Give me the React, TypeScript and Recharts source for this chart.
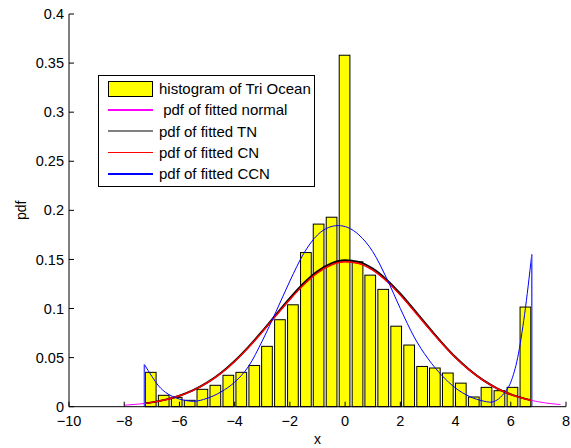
import React from "react";
import { ComposedChart, Bar, Line, XAxis, YAxis } from "recharts";

// histogram bins (centres and heights)
const binCenters = [
  -7.04, -6.57, -6.1, -5.63, -5.17, -4.7, -4.23, -3.76, -3.29, -2.83, -2.36, -1.89, -1.42, -0.96, -0.49,
  -0.02, 0.45, 0.91, 1.38, 1.85, 2.32, 2.79, 3.25, 3.72, 4.19, 4.66, 5.12, 5.59, 6.06, 6.53,
];
const binHeights = [
  0.035, 0.0116, 0.0095, 0.0065, 0.0177, 0.0218, 0.032, 0.035, 0.042, 0.0615, 0.0886, 0.1038, 0.157, 0.186,
  0.193, 0.358, 0.1476, 0.134, 0.1195, 0.082, 0.0628, 0.041, 0.0394, 0.0343, 0.024, 0.0099, 0.0197, 0.0163,
  0.0197, 0.1015,
];

const xTicks = [-10, -8, -6, -4, -2, 0, 2, 4, 6, 8];
const yTicks = [0, 0.05, 0.1, 0.15, 0.2, 0.25, 0.3, 0.35, 0.4];

// fitted normal, drawn over the wider range
const normalX = [
  -8, -7.5, -7, -6.5, -6, -5.5, -5, -4.5, -4, -3.5, -3, -2.5, -2, -1.5, -1, -0.5, 0, 0.5, 1, 1.5, 2, 2.5, 3,
  3.5, 4, 4.5, 5, 5.5, 6, 6.5, 7, 7.5, 7.8,
];
const normalPdf = [
  0.0015, 0.0026, 0.0044, 0.0071, 0.0111, 0.0167, 0.0242, 0.0339, 0.0461, 0.0603, 0.0761, 0.0928, 0.1093,
  0.1243, 0.1364, 0.1444, 0.1477, 0.1459, 0.1391, 0.128, 0.1137, 0.0975, 0.0808, 0.0646, 0.0498, 0.0372,
  0.0267, 0.0185, 0.0124, 0.0081, 0.005, 0.003, 0.0022,
];

// TN and CN, drawn over the data range
const fitX = [
  -7.27, -7, -6.5, -6, -5.5, -5, -4.5, -4, -3.5, -3, -2.5, -2, -1.5, -1, -0.5, 0, 0.5, 1, 1.5, 2, 2.5, 3, 3.5,
  4, 4.5, 5, 5.5, 6, 6.5, 6.76,
];
const tnPdf = [
  0.0034, 0.0044, 0.0072, 0.0112, 0.0169, 0.0245, 0.0343, 0.0466, 0.061, 0.0769, 0.0938, 0.1105, 0.1257,
  0.1379, 0.146, 0.1493, 0.1475, 0.1406, 0.1294, 0.115, 0.0986, 0.0817, 0.0653, 0.0503, 0.0376, 0.027, 0.0187,
  0.0125, 0.0082, 0.0064,
];
const cnPdf = [
  0.0033, 0.0044, 0.0071, 0.0111, 0.0167, 0.0242, 0.0339, 0.0461, 0.0603, 0.0761, 0.0928, 0.1093, 0.1243,
  0.1364, 0.1444, 0.1477, 0.1459, 0.1391, 0.128, 0.1137, 0.0975, 0.0808, 0.0646, 0.0498, 0.0372, 0.0267,
  0.0185, 0.0124, 0.0081, 0.0063,
];

// CCN
const ccnX = [
  -7.27, -7, -6.75, -6.5, -6.25, -6, -5.75, -5.5, -5, -4.5, -4, -3.5, -3, -2.5, -2, -1.5, -1, -0.6, -0.25, 0.1,
  0.5, 1, 1.5, 2, 2.5, 3, 3.5, 4, 4.5, 5, 5.25, 5.5, 5.75, 6, 6.25, 6.5, 6.76,
];
const ccnPdf = [
  0.043, 0.031, 0.021, 0.0145, 0.0105, 0.0078, 0.0062, 0.0055, 0.0085, 0.015, 0.025, 0.041, 0.067, 0.097,
  0.128, 0.156, 0.175, 0.1825, 0.1845, 0.1825, 0.175, 0.158, 0.131, 0.1, 0.071, 0.049, 0.032, 0.019, 0.0105,
  0.0058, 0.0046, 0.0068, 0.0135, 0.025, 0.05, 0.094, 0.155,
];
const ccnEdgeX = [-7.27, 6.76];
const ccnEdgeTop = [0.043, 0.155];

const legendItems = [
  { label: "histogram of Tri Ocean", color: "#ffff00", patch: true },
  { label: "\u00a0pdf of fitted normal", color: "#ff00ff", patch: false },
  { label: "pdf of fitted TN", color: "#808080", patch: false },
  { label: "pdf of fitted CN", color: "#ff0000", patch: false },
  { label: "pdf of fitted CCN", color: "#0000ff", patch: false },
];

const FONT = '"Liberation Sans", Arial, Helvetica, sans-serif';
const BAR_PX = 10.7;

const toPoints = (xs: number[], ys: number[]) => xs.map((x, i) => ({ x, p: ys[i] }));

const histData = toPoints(binCenters, binHeights);
const normalData = toPoints(normalX, normalPdf);
const tnData = toPoints(fitX, tnPdf);
const cnData = toPoints(fitX, cnPdf);
const ccnData = toPoints(ccnX, ccnPdf);
const ccnLeftEdge = [
  { x: ccnEdgeX[0], p: 0 },
  { x: ccnEdgeX[0], p: ccnEdgeTop[0] },
];
const ccnRightEdge = [
  { x: ccnEdgeX[1], p: 0 },
  { x: ccnEdgeX[1], p: ccnEdgeTop[1] },
];

const fmtX = (v: number) => (v < 0 ? `\u2212${Math.abs(v)}` : String(v));

// recharts squeezes bars on a numeric axis, so redraw each one at bin width around its centre
const HistBar = (props: any) => {
  const { x, y, width, height } = props;
  if (height == null || height <= 0) return null;
  const cx = x + width / 2;
  return (
    <rect
      x={cx - BAR_PX / 2}
      y={y}
      width={BAR_PX}
      height={height}
      fill="#ffff00"
      stroke="#000"
      strokeWidth={1}
    />
  );
};

function LegendBox() {
  return (
    <div
      style={{
        position: "absolute",
        left: 98,
        top: 75,
        width: 217,
        height: 112,
        boxSizing: "border-box",
        border: "1px solid #000",
        background: "#fff",
        paddingTop: 2,
        fontFamily: FONT,
        fontSize: 15,
        color: "#000",
      }}
    >
      {legendItems.map((item) => (
        <div key={item.label} style={{ display: "flex", alignItems: "center", height: 21.3 }}>
          <div style={{ width: 9, flexShrink: 0 }} />
          {item.patch ? (
            <div
              style={{
                width: 45,
                height: 16,
                flexShrink: 0,
                boxSizing: "border-box",
                background: item.color,
                border: "1px solid #000",
              }}
            />
          ) : (
            <div style={{ width: 45, height: 1.5, flexShrink: 0, background: item.color }} />
          )}
          <span style={{ marginLeft: 6, whiteSpace: "pre", lineHeight: 1 }}>{item.label}</span>
        </div>
      ))}
    </div>
  );
}

export default function App() {
  const tickStyle = { fontSize: 14.5, fill: "#000", fontFamily: FONT };
  return (
    <div style={{ width: 571, height: 448, background: "#fff", position: "relative" }}>
      <style>{"body{margin:0;background:#fff}"}</style>
      <ComposedChart
        width={571}
        height={448}
        data={histData}
        margin={{ top: 14, right: 5, bottom: 0, left: 0 }}
      >
        <XAxis
          dataKey="x"
          type="number"
          domain={[-10, 8]}
          ticks={xTicks}
          tickFormatter={fmtX}
          allowDataOverflow
          height={41.3}
          tickSize={-5}
          tickMargin={14}
          tick={tickStyle}
          axisLine={{ stroke: "#000" }}
          tickLine={{ stroke: "#000" }}
          label={{ value: "x", position: "insideBottom", offset: 4, fontSize: 14, fill: "#000", fontFamily: FONT }}
        />
        <XAxis
          xAxisId="top"
          orientation="top"
          type="number"
          domain={[-10, 8]}
          ticks={xTicks}
          height={0}
          tickSize={-5}
          tick={false}
          axisLine={{ stroke: "#000" }}
          tickLine={{ stroke: "#000" }}
        />
        <YAxis
          type="number"
          domain={[0, 0.4]}
          ticks={yTicks}
          width={69}
          tickSize={-5}
          tickMargin={10}
          tick={tickStyle}
          axisLine={{ stroke: "#000" }}
          tickLine={{ stroke: "#000" }}
          label={(props: any) => {
            const vb = props.viewBox || { x: 0, y: 14, height: 392.7 };
            const cx = vb.x + 21;
            const cy = vb.y + vb.height / 2;
            return (
              <text
                x={cx}
                y={cy}
                transform={`rotate(-90 ${cx} ${cy})`}
                textAnchor="middle"
                dominantBaseline="central"
                fontSize={14}
                fontFamily={FONT}
                fill="#000"
              >
                pdf
              </text>
            );
          }}
        />
        <YAxis
          yAxisId="right"
          orientation="right"
          type="number"
          domain={[0, 0.4]}
          ticks={yTicks}
          width={0}
          tickSize={-5}
          tick={false}
          axisLine={{ stroke: "#000" }}
          tickLine={{ stroke: "#000" }}
        />
        <Bar dataKey="p" shape={HistBar} isAnimationActive={false} />
        <Line
          data={normalData}
          dataKey="p"
          type="monotone"
          stroke="#ff00ff"
          strokeWidth={1}
          dot={false}
          activeDot={false}
          isAnimationActive={false}
        />
        <Line
          data={tnData}
          dataKey="p"
          type="monotone"
          stroke="#000"
          strokeWidth={2}
          dot={false}
          activeDot={false}
          isAnimationActive={false}
        />
        <Line
          data={cnData}
          dataKey="p"
          type="monotone"
          stroke="#ff0000"
          strokeWidth={1.5}
          dot={false}
          activeDot={false}
          isAnimationActive={false}
        />
        <Line
          data={ccnData}
          dataKey="p"
          type="monotone"
          stroke="#0000ff"
          strokeWidth={1}
          dot={false}
          activeDot={false}
          isAnimationActive={false}
        />
        <Line
          data={ccnLeftEdge}
          dataKey="p"
          type="linear"
          stroke="#4a4aff"
          strokeWidth={1.5}
          dot={false}
          activeDot={false}
          isAnimationActive={false}
        />
        <Line
          data={ccnRightEdge}
          dataKey="p"
          type="linear"
          stroke="#4a4aff"
          strokeWidth={1.5}
          dot={false}
          activeDot={false}
          isAnimationActive={false}
        />
      </ComposedChart>
      <LegendBox />
    </div>
  );
}
